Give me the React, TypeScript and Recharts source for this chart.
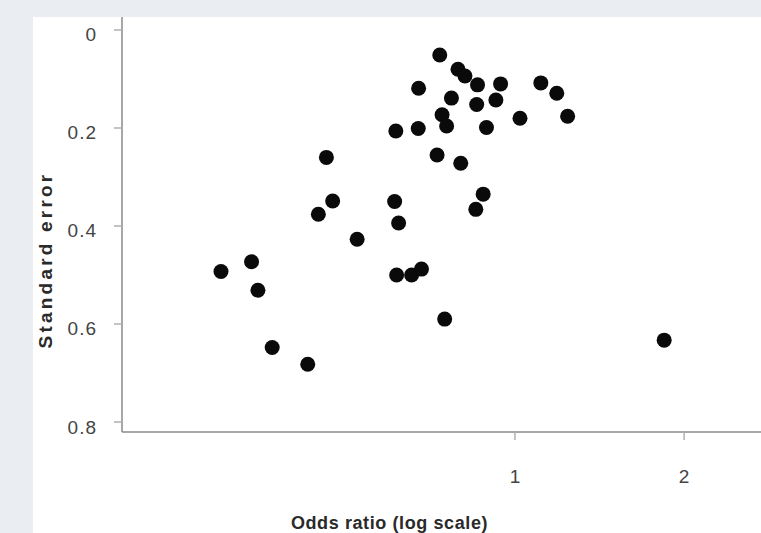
import { ScatterChart, Scatter, XAxis, YAxis } from "recharts";

// odds ratio (log scale) and standard error, one pair per study
const oddsRatio = [
  0.735, 0.792, 0.815, 0.674, 0.858, 0.943, 1.112, 1.187, 0.771, 0.855,
  0.925, 0.742, 0.756, 1.021, 1.241, 0.614, 0.673, 0.89, 0.727, 0.801,
  0.611, 0.878, 0.852, 0.621, 0.462, 0.474, 0.447, 0.524, 0.3, 0.34,
  0.349, 0.616, 0.655, 0.682, 0.75, 0.37, 0.428, 1.843,
];
const stdError = [
  0.051, 0.08, 0.094, 0.119, 0.112, 0.11, 0.108, 0.129, 0.139, 0.152,
  0.143, 0.173, 0.196, 0.18, 0.176, 0.206, 0.201, 0.199, 0.255, 0.272,
  0.35, 0.335, 0.366, 0.394, 0.26, 0.349, 0.376, 0.427, 0.493, 0.473,
  0.531, 0.5, 0.5, 0.488, 0.59, 0.648, 0.682, 0.633,
];
const xTicks = [1, 2];
const yTicks = [0, 0.2, 0.4, 0.6, 0.8];

const data = oddsRatio.map((or, i) => ({ or, se: stdError[i] }));

const FONT = "'Liberation Sans', Arial, sans-serif";

const YTick = ({ x, y, payload }: any) => (
  <text
    x={x}
    y={y + 5}
    textAnchor="end"
    dominantBaseline="central"
    fontFamily={FONT}
    fontSize={19}
    fill="#444"
    letterSpacing={1}
  >
    {payload.value === 0 ? "0" : payload.value.toFixed(1)}
  </text>
);

const XTick = ({ x, y, payload }: any) => (
  <text
    x={x}
    y={y + 36}
    textAnchor="middle"
    dominantBaseline="central"
    fontFamily={FONT}
    fontSize={19}
    fill="#444"
  >
    {payload.value}
  </text>
);

const Dot = ({ cx, cy }: any) => <circle cx={cx} cy={cy} r={7.5} fill="#0a0a0a" />;

export default function App() {
  return (
    <div
      style={{
        position: "absolute",
        left: 0,
        top: 0,
        width: 761,
        height: 533,
        background: "#eaeef3",
        overflow: "hidden",
      }}
    >
      <div
        style={{
          position: "absolute",
          left: 33,
          top: 17,
          width: 728,
          height: 516,
          background: "#fff",
        }}
      >
        <ScatterChart width={728} height={516} margin={{ top: 0, right: 0, bottom: 0, left: 0 }}>
          <XAxis
            dataKey="or"
            type="number"
            scale="log"
            domain={[0.2, 2.74]}
            allowDataOverflow
            ticks={xTicks}
            height={101}
            tickSize={8}
            tickMargin={0}
            stroke="#8a8a8a"
            strokeWidth={1.5}
            tickLine={{ stroke: "#b0b0b0" }}
            tick={<XTick />}
            label={{
              content: ({ viewBox }: any) => (
                <text
                  x={viewBox.x + viewBox.width / 2 - 52}
                  y={viewBox.y + 97}
                  textAnchor="middle"
                  fontFamily={FONT}
                  fontSize={18}
                  fontWeight="bold"
                  fill="#2a2a2a"
                  letterSpacing={0.6}
                >
                  Odds ratio (log scale)
                </text>
              ),
            }}
          />
          <YAxis
            dataKey="se"
            type="number"
            domain={[-0.0265, 0.8204]}
            allowDataOverflow
            reversed
            ticks={yTicks}
            width={89}
            tickSize={8}
            tickMargin={17}
            stroke="#8a8a8a"
            strokeWidth={1.5}
            tickLine={{ stroke: "#b0b0b0" }}
            tick={<YTick />}
            label={{
              content: ({ viewBox }: any) => (
                <text
                  x={viewBox.x + 12}
                  y={viewBox.y + 243}
                  transform={`rotate(-90 ${viewBox.x + 12} ${viewBox.y + 243})`}
                  textAnchor="middle"
                  dominantBaseline="central"
                  fontFamily={FONT}
                  fontSize={19}
                  fontWeight="bold"
                  fill="#2a2a2a"
                  letterSpacing={3.2}
                >
                  Standard error
                </text>
              ),
            }}
          />
          <Scatter data={data} shape={<Dot />} isAnimationActive={false} />
        </ScatterChart>
      </div>
    </div>
  );
}
